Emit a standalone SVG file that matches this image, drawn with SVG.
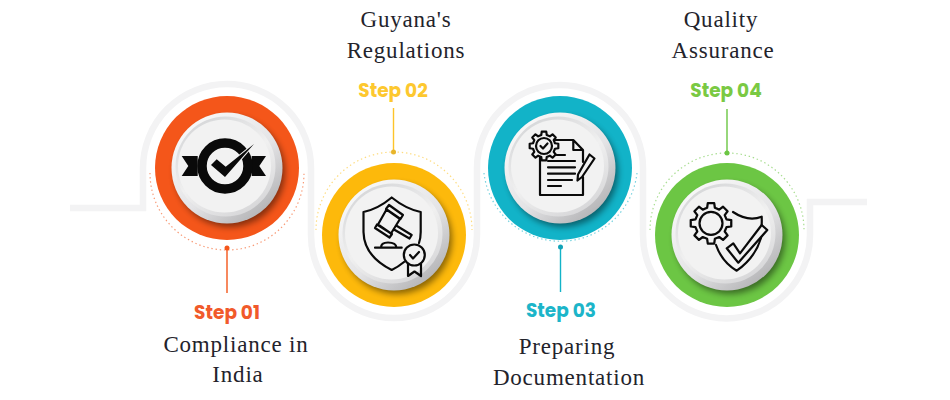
<svg xmlns="http://www.w3.org/2000/svg" width="950" height="400" viewBox="0 0 950 400">
<style>
.track{fill:none;stroke:#f3f3f4;stroke-width:6.5}
.ln{fill:none;stroke:#0a0a0a;stroke-width:2.2;stroke-linecap:round;stroke-linejoin:round}
.st{font-family:Poppins,Inter,"Liberation Sans",sans-serif;font-weight:700;font-size:18.5px;text-anchor:middle}
.lb{font-family:"Liberation Serif",serif;font-size:23px;letter-spacing:.8px;fill:#23232b;text-anchor:middle}
.dots{fill:none;stroke-width:1.2;stroke-dasharray:1.4 2.8;opacity:.6}
.stem{fill:none;stroke-width:1.4}
</style>
<defs>
<linearGradient id="rim" x1="0.15" y1="0.1" x2="0.85" y2="0.95"><stop offset="0" stop-color="#f8f8f8"/><stop offset=".55" stop-color="#e4e4e6"/><stop offset="1" stop-color="#b0b0b2"/></linearGradient>
<linearGradient id="rim2" x1="0.2" y1="0" x2="0.8" y2="1"><stop offset="0" stop-color="#d4d5d7"/><stop offset=".5" stop-color="#f0f0f0"/><stop offset="1" stop-color="#d4d4d6"/></linearGradient>
<filter id="sh" x="-30%" y="-30%" width="160%" height="160%"><feGaussianBlur stdDeviation="3"/></filter>
<g id="button">
<circle cx="3" cy="4" r="55" fill="#000" opacity=".45" filter="url(#sh)"/>
<circle r="55.500" fill="url(#rim)"/>
<circle cx="-1.500" cy="-1.500" r="50" fill="url(#rim2)"/>
<circle cx="-2.500" cy="-2" r="46.500" fill="#f2f2f2"/>
</g>
<path id="gear" d="M75.700-18.900L98.800-15.600 98.800 15.600 75.700 18.900 66.900 40.200 80.900 58.800 58.800 80.900 40.200 66.900 18.900 75.700 15.600 98.800-15.600 98.800-18.900 75.700-40.200 66.900-58.800 80.900-80.900 58.800-66.900 40.200-75.700 18.900-98.800 15.600-98.800-15.600-75.700-18.900-66.900-40.200-80.900-58.800-58.800-80.900-40.200-66.900-18.900-75.700-15.600-98.800 15.600-98.800 18.900-75.700 40.200-66.900 58.800-80.900 80.900-58.800 66.900-40.200Z"/>
</defs>
<g id="track">
<path class="track" d="M70 208H143V168A84 84 0 0 1 311 168V235A83 83 0 0 0 477 235V168A83 83 0 0 1 643 168V235A83.500 83.500 0 0 0 810 235V202H867"/>
</g>
<g id="connectors">
<path class="dots" stroke="#f4561a" d="M150 173A77 77 0 0 0 304 173"/>
<path class="stem" stroke="#f4561a" d="M227 248V293"/><circle cx="227" cy="248" r="2.500" fill="#f4561a"/>
<path class="dots" stroke="#fdc42a" d="M316 230A78 78 0 0 1 472 230"/>
<path class="stem" stroke="#fdc42a" d="M393.500 152V108"/><circle cx="393.500" cy="152" r="2.500" fill="#e8b52a"/>
<path class="dots" stroke="#12b3c8" d="M484 173A77 77 0 0 0 637 173"/>
<path class="stem" stroke="#12b3c8" d="M560.500 247V292"/><circle cx="560.500" cy="247" r="2.500" fill="#12a3b8"/>
<path class="dots" stroke="#6cc644" d="M650 230A77 77 0 0 1 804 230"/>
<path class="stem" stroke="#6cc644" d="M727 153V109"/><circle cx="727" cy="153" r="2.500" fill="#6cc644"/>
</g>
<g id="node1">
<circle cx="227" cy="168" r="72" fill="#f4561a"/>
<use href="#button" x="227" y="168"/>
<path d="M181.700 156H197.700V176H181.700L188.300 166Z M266 156H251.700V176H266L259.300 166Z" fill="#0a0a0a"/>
<circle cx="225" cy="166" r="23" fill="none" stroke="#0a0a0a" stroke-width="9.500"/>
<path d="M254 144L225 177 211 165 216.700 159.300 225.700 166.700Z" fill="#0a0a0a" stroke="#f2f2f2" stroke-width="2" paint-order="stroke"/>
<text class="st" x="227" y="319" fill="#f15a2b">Step 01</text>
<text class="lb" x="236" y="352">Compliance in</text>
<text class="lb" x="238" y="382">India</text>
</g>
<g id="node2">
<circle cx="394" cy="235" r="72" fill="#fdb90b"/>
<use href="#button" x="394" y="235"/>
<path class="ln" d="M404 262Q398 267 391.700 270Q364 256 363.500 232V212Q378 209 391.700 197.500Q406 209 420.700 212V232Q420.700 238 419 243"/>
<path class="ln" d="M389 205L403 215 400.500 219 386 209Z M386.500 209.500L400 219 391 233.500 378 224.500Z M377 224.500L392 234 389.500 237.500 375 228Z M397 226L411.700 235 409.500 238.500 394 229.500 M375 247.700H401.700 M381 247.700Q381 242.500 388 242.500Q396 242.500 396.500 247.700"/>
<path class="ln" d="M408 264V276L414.500 271.500 421 276V264"/>
<circle class="ln" cx="414.300" cy="255" r="10.500" style="fill:#f2f2f2"/>
<path class="ln" d="M410 255L413 258.500 419 252"/>
<text class="st" x="393" y="97" fill="#fdc82f">Step 02</text>
<text class="lb" x="406" y="27">Guyana's</text>
<text class="lb" x="406" y="58">Regulations</text>
</g>
<g id="node3">
<circle cx="560" cy="168" r="72" fill="#12b3c8"/>
<use href="#button" x="560" y="168"/>
<path class="ln" d="M540 150V195H583V177 M583 162V150L573.300 140H550 M573.300 140V150H583"/>
<path class="ln" d="M556.700 155H565 M548 161H575 M548 167.300H575 M548 173.700H575 M548 180H572 M548 186H561"/>
<use href="#gear" transform="translate(544 146) scale(.145)" fill="#f2f2f2" stroke="#0a0a0a" stroke-width="15" stroke-linejoin="round"/>
<circle class="ln" cx="544" cy="146" r="8"/>
<path class="ln" d="M540.500 146L543 148.500 547.500 143.500"/>
<path class="ln" d="M589.500 154.500L594.500 158.500 582 177 577.500 180.500 578 174.500Z" style="fill:#f2f2f2"/>
<text class="st" x="561" y="317" fill="#1cb5c9">Step 03</text>
<text class="lb" x="567" y="354">Preparing</text>
<text class="lb" x="569" y="385">Documentation</text>
</g>
<g id="node4">
<circle cx="727" cy="235" r="72" fill="#6cc644"/>
<use href="#button" x="727" y="235"/>
<path class="ln" d="M733 212Q748 222 761.700 216.700Q762 226 761 238Q755 258 736.700 270.700Q722 262 716 245"/>
<use href="#gear" transform="translate(711 223.300) scale(.205)" fill="#f2f2f2" stroke="#0a0a0a" stroke-width="11" stroke-linejoin="round"/>
<circle class="ln" cx="711" cy="223.300" r="11.500"/>
<path class="ln" d="M726.700 248.300L733.300 243.300 740 253.300 761.700 225 767.300 230 738.300 262.700Z" style="fill:#f2f2f2"/>
<text class="st" x="726" y="97" fill="#7ac943">Step 04</text>
<text class="lb" x="721" y="27">Quality</text>
<text class="lb" x="723" y="58">Assurance</text>
</g>
</svg>
